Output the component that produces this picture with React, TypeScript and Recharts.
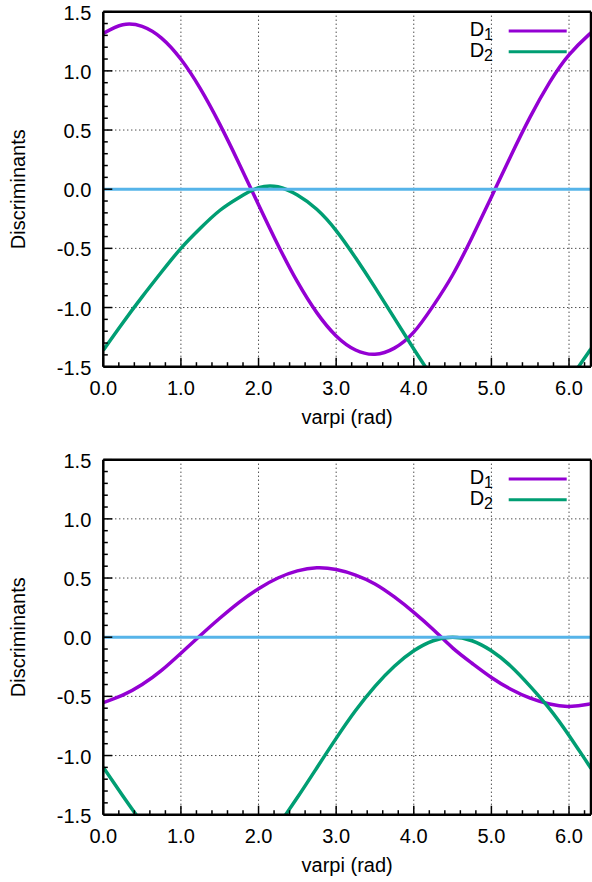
import React from 'react';
import { LineChart, Line, XAxis, YAxis, ReferenceLine, Legend, CartesianGrid } from 'recharts';

// ---------- data ----------
const VARPI = [0, 0.25, 0.5, 0.75, 1.0, 1.25, 1.5, 1.75, 2.0, 2.25, 2.5, 2.75, 3.0, 3.25, 3.5, 3.75, 4.0, 4.25, 4.5, 4.75, 5.0, 5.25, 5.5, 5.75, 6.0, 6.25, 6.2832];

const TOP_D1 = [1.317, 1.39, 1.376, 1.277, 1.098, 0.85, 0.55, 0.216, -0.131, -0.471, -0.782, -1.043, -1.24, -1.359, -1.395, -1.343, -1.208, -0.986, -0.725, -0.408, -0.066, 0.281, 0.611, 0.902, 1.135, 1.302, 1.317];
const TOP_D2 = [-1.36, -1.13, -0.91, -0.7, -0.5, -0.33, -0.18, -0.07, 0.012, 0.02, -0.05, -0.17, -0.35, -0.58, -0.83, -1.09, -1.35, -1.6, -1.83, -2.0, -2.11, -2.15, -2.07, -1.87, -1.62, -1.38, -1.35];

const BOT_D1 = [-0.553, -0.49, -0.4, -0.28, -0.135, 0.015, 0.16, 0.295, 0.41, 0.5, 0.56, 0.586, 0.572, 0.525, 0.45, 0.34, 0.21, 0.065, -0.09, -0.22, -0.34, -0.44, -0.515, -0.565, -0.585, -0.566, -0.556];
const BOT_D2 = [-1.1, -1.34, -1.57, -1.78, -1.95, -2.06, -2.09, -2.03, -1.86, -1.6, -1.355, -1.105, -0.855, -0.62, -0.415, -0.245, -0.115, -0.03, 0.0, -0.03, -0.115, -0.245, -0.415, -0.605, -0.83, -1.075, -1.1];

const X_TICKS = [0, 0.2, 0.4, 0.6, 0.8, 1.0, 1.2, 1.4, 1.6, 1.8, 2.0, 2.2, 2.4, 2.6, 2.8, 3.0, 3.2, 3.4, 3.6, 3.8, 4.0, 4.2, 4.4, 4.6, 4.8, 5.0, 5.2, 5.4, 5.6, 5.8, 6.0, 6.2];
const Y_TICKS = [-1.5, -1.4, -1.3, -1.2, -1.1, -1.0, -0.9, -0.8, -0.7, -0.6, -0.5, -0.4, -0.3, -0.2, -0.1, 0, 0.1, 0.2, 0.3, 0.4, 0.5, 0.6, 0.7, 0.8, 0.9, 1.0, 1.1, 1.2, 1.3, 1.4, 1.5];
const X_GRID = [1, 2, 3, 4, 5, 6];
const Y_GRID = [-1.0, -0.5, 0, 0.5, 1.0];
const X_DOMAIN: [number, number] = [0, 6.2832];
const Y_DOMAIN: [number, number] = [-1.5, 1.5];

const SERIES_NAMES = ['D1', 'D2'];
const X_TITLE = 'varpi (rad)';
const Y_TITLE = 'Discriminants';

// ---------- style ----------
const FONT = '"Liberation Sans", Arial, Helvetica, sans-serif';
const C_D1 = '#9400d3';
const C_D2 = '#009e73';
const C_ZERO = '#56b4e9';
const MAJOR_LEN = 9;
const MINOR_LEN = 4.5;
const TICK_W = 1.5;
const BORDER_W = 2.5;
const BORDER_C = '#000';
const SERIES_W = 3.5;

const isMajorX = (v: number) => Math.abs(v - Math.round(v)) < 1e-6;
const isMajorY = (v: number) => Math.abs(v * 2 - Math.round(v * 2)) < 1e-6;

const BottomTick = (props: any) => {
  const { x, y, payload } = props;
  const v = payload.value as number;
  const major = isMajorX(v);
  return (
    <g>
      <line x1={x} x2={x} y1={y} y2={y - (major ? MAJOR_LEN : MINOR_LEN)} stroke="#000" strokeWidth={TICK_W} />
      {major && (
        <text x={x} y={y + 28.3} textAnchor="middle" fontSize={20} fontFamily={FONT} fill="#000">
          {v.toFixed(1)}
        </text>
      )}
    </g>
  );
};

const TopTick = (props: any) => {
  const { x, y, payload } = props;
  const v = payload.value as number;
  const major = isMajorX(v);
  return <line x1={x} x2={x} y1={y} y2={y + (major ? MAJOR_LEN : MINOR_LEN)} stroke="#000" strokeWidth={TICK_W} />;
};

const LeftTick = (props: any) => {
  const { x, y, payload } = props;
  const v = payload.value as number;
  const major = isMajorY(v);
  return (
    <g>
      <line x1={x} x2={x + (major ? MAJOR_LEN : MINOR_LEN)} y1={y} y2={y} stroke="#000" strokeWidth={TICK_W} />
      {major && (
        <text x={x - 12} y={y + 8} textAnchor="end" fontSize={20} fontFamily={FONT} fill="#000">
          {v.toFixed(1)}
        </text>
      )}
    </g>
  );
};

const RightTick = (props: any) => {
  const { x, y, payload } = props;
  const v = payload.value as number;
  const major = isMajorY(v);
  return <line x1={x} x2={x - (major ? MAJOR_LEN : MINOR_LEN)} y1={y} y2={y} stroke="#000" strokeWidth={TICK_W} />;
};

const YTitle = (props: any) => {
  const vb = props.viewBox || {};
  const cx = (vb.x || 0) + 25;
  const cy = (vb.y || 0) + (vb.height || 0) / 2;
  return (
    <text x={cx} y={cy} transform={`rotate(-90, ${cx}, ${cy})`} textAnchor="middle" fontSize={20} fontFamily={FONT} fill="#000">
      {Y_TITLE}
    </text>
  );
};

const XTitle = (props: any) => {
  const vb = props.viewBox || {};
  const cx = (vb.x || 0) + (vb.width || 0) / 2;
  const cy = (vb.y || 0) + 57.5;
  return (
    <text x={cx} y={cy} textAnchor="middle" fontSize={20} fontFamily={FONT} fill="#000">
      {X_TITLE}
    </text>
  );
};

const LegendBox = (props: any) => {
  const payload = (props.payload || []) as any[];
  return (
    <svg width={130} height={58} style={{ display: 'block', overflow: 'visible' }}>
      {payload.map((e, i) => {
        const name = String(e.value);
        return (
          <g key={name}>
            <text x={43} y={26 + i * 20.7} textAnchor="end" fontSize={20} fontFamily={FONT} fill="#000">
              {name.slice(0, 1)}
              <tspan dy={4} fontSize={16}>{name.slice(1)}</tspan>
            </text>
            <line x1={58.7} x2={116.7} y1={21 + i * 20.7} y2={21 + i * 20.7} stroke={e.color} strokeWidth={3} />
          </g>
        );
      })}
    </svg>
  );
};

const buildRows = (d1: number[], d2: number[]) => VARPI.map((x, i) => ({ x, d1: d1[i], d2: d2[i] }));

const Panel = ({ d1, d2, height }: { d1: number[]; d2: number[]; height: number }) => {
  const plotH = 355;
  const top = 11.7;
  const xAxisH = height - top - plotH;
  return (
    <LineChart width={592} height={height} data={buildRows(d1, d2)} margin={{ top, right: 1, bottom: 0, left: 0 }}>
      <CartesianGrid
        stroke="#000"
        strokeDasharray="1 3"
        strokeWidth={1}
        horizontalValues={Y_GRID}
        verticalValues={X_GRID}
      />
      <XAxis
        dataKey="x"
        type="number"
        domain={X_DOMAIN}
        ticks={X_TICKS}
        interval={0}
        allowDataOverflow
        height={xAxisH}
        tickSize={0}
        tickMargin={0}
        tickLine={false}
        axisLine={false}
        tick={<BottomTick />}
        label={<XTitle />}
      />
      <XAxis
        xAxisId="top"
        orientation="top"
        dataKey="x"
        type="number"
        domain={X_DOMAIN}
        ticks={X_TICKS}
        interval={0}
        allowDataOverflow
        height={0}
        tickSize={0}
        tickMargin={0}
        tickLine={false}
        axisLine={false}
        tick={<TopTick />}
      />
      <YAxis
        type="number"
        domain={Y_DOMAIN}
        ticks={Y_TICKS}
        interval={0}
        allowDataOverflow
        width={103.3}
        tickSize={0}
        tickMargin={0}
        tickLine={false}
        axisLine={false}
        tick={<LeftTick />}
        label={<YTitle />}
      />
      <YAxis
        yAxisId="right"
        orientation="right"
        type="number"
        domain={Y_DOMAIN}
        ticks={Y_TICKS}
        interval={0}
        allowDataOverflow
        width={0}
        tickSize={0}
        tickMargin={0}
        tickLine={false}
        axisLine={false}
        tick={<RightTick />}
      />
      <Line name={SERIES_NAMES[0]} dataKey="d1" type="natural" stroke={C_D1} strokeWidth={SERIES_W} dot={false} activeDot={false} isAnimationActive={false} />
      <Line name={SERIES_NAMES[1]} dataKey="d2" type="natural" stroke={C_D2} strokeWidth={SERIES_W} dot={false} activeDot={false} isAnimationActive={false} />
      <ReferenceLine y={0} stroke={C_ZERO} strokeWidth={3} />
      <ReferenceLine x={X_DOMAIN[0]} stroke={BORDER_C} strokeWidth={BORDER_W} ifOverflow="visible" />
      <ReferenceLine x={X_DOMAIN[1]} stroke={BORDER_C} strokeWidth={BORDER_W} ifOverflow="visible" />
      <ReferenceLine y={Y_DOMAIN[0]} stroke={BORDER_C} strokeWidth={BORDER_W} ifOverflow="visible" />
      <ReferenceLine y={Y_DOMAIN[1]} stroke={BORDER_C} strokeWidth={BORDER_W} ifOverflow="visible" />
      <Legend
        layout="vertical"
        align="center"
        verticalAlign="middle"
        wrapperStyle={{ left: 450, top: 10, width: 130, height: 58 }}
        content={<LegendBox />}
      />
    </LineChart>
  );
};

export default function App() {
  return (
    <div style={{ position: 'absolute', left: 0, top: 0, width: 592, height: 882, overflow: 'hidden', background: '#fff' }}>
      <div style={{ position: 'absolute', left: 0, top: 0 }}>
        <Panel d1={TOP_D1} d2={TOP_D2} height={441} />
      </div>
      <div style={{ position: 'absolute', left: 0, top: 448 }}>
        <Panel d1={BOT_D1} d2={BOT_D2} height={434} />
      </div>
    </div>
  );
}
